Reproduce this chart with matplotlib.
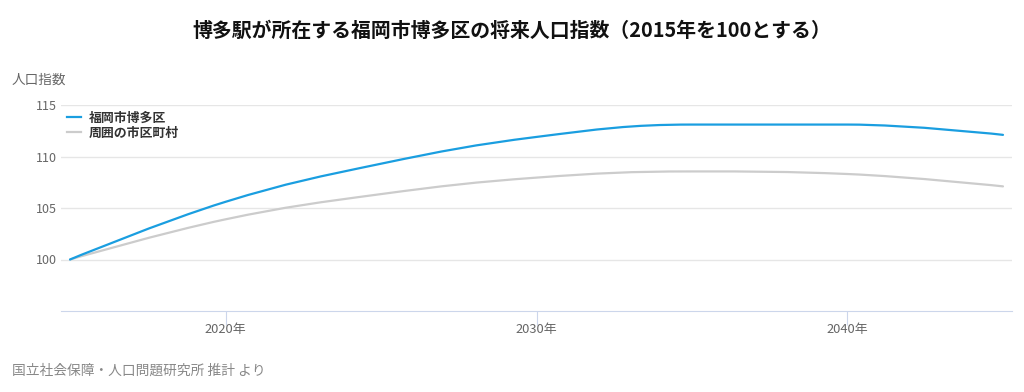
import matplotlib
matplotlib.use('Agg')
import matplotlib.pyplot as plt
from matplotlib.path import Path
from matplotlib.patches import PathPatch
from matplotlib.lines import Line2D

plt.rcParams['font.family'] = ['Noto Sans CJK JP', 'DejaVu Sans']

years = [2015, 2020, 2025, 2030, 2035, 2040, 2045]
hakata = [100, 105.6, 109.3, 111.9, 113.1, 113.1, 112.1]
surround = [100, 103.9, 106.35, 107.95, 108.55, 108.3, 107.1]
series_names = ['福岡市博多区', '周囲の市区町村']
colors = ['#1a9ee0', '#cccccc']
yticks = [100, 105, 110, 115]
xticks = [2020, 2030, 2040]
xticklabels = ['2020年', '2030年', '2040年']


def spline_path(x, y, smoothing=1.5):
    # highcharts-like spline: control points from neighbours
    n = len(x)
    lc = [(x[i], y[i]) for i in range(n)]
    rc = [(x[i], y[i]) for i in range(n)]
    d = smoothing + 1
    for i in range(1, n - 1):
        lcx = (smoothing * x[i] + x[i - 1]) / d
        lcy = (smoothing * y[i] + y[i - 1]) / d
        rcx = (smoothing * x[i] + x[i + 1]) / d
        rcy = (smoothing * y[i] + y[i + 1]) / d
        if rcx != lcx:
            corr = (rcy - lcy) * (rcx - x[i]) / (rcx - lcx) + y[i] - rcy
            lcy += corr
            rcy += corr
        if lcy > y[i - 1] and lcy > y[i]:
            lcy = max(y[i - 1], y[i]); rcy = 2 * y[i] - lcy
        elif lcy < y[i - 1] and lcy < y[i]:
            lcy = min(y[i - 1], y[i]); rcy = 2 * y[i] - lcy
        if rcy > y[i + 1] and rcy > y[i]:
            rcy = max(y[i + 1], y[i]); lcy = 2 * y[i] - rcy
        elif rcy < y[i + 1] and rcy < y[i]:
            rcy = min(y[i + 1], y[i]); lcy = 2 * y[i] - rcy
        lc[i] = (lcx, lcy)
        rc[i] = (rcx, rcy)
    verts = [(x[0], y[0])]
    codes = [Path.MOVETO]
    for i in range(1, n):
        verts += [rc[i - 1], lc[i], (x[i], y[i])]
        codes += [Path.CURVE4] * 3
    return Path(verts, codes)


fig = plt.figure(figsize=(10.24, 3.92), dpi=100)
ax = fig.add_axes([61 / 1024, 81 / 392, 951 / 1024, 206 / 392])

for vals, col in [(surround, colors[1]), (hakata, colors[0])]:
    ax.add_patch(PathPatch(spline_path(years, vals), facecolor='none',
                           edgecolor=col, lw=1.6, capstyle='round'))

ax.set_xlim(2014.71, 2045.29)
ax.set_ylim(95, 115)
ax.set_yticks(yticks)
ax.set_xticks(xticks)
ax.set_xticklabels(xticklabels)
ax.grid(axis='y', color='#e6e6e6', lw=1)
ax.set_axisbelow(True)
for s in ['left', 'right', 'top']:
    ax.spines[s].set_visible(False)
ax.spines['bottom'].set_color('#ccd6eb')
ax.tick_params(axis='y', length=0, labelsize=9, labelcolor='#666666', pad=3)
ax.tick_params(axis='x', length=10, color='#ccd6eb', labelsize=9.3,
               labelcolor='#666666', pad=-1)

handles = [Line2D([], [], color=c, lw=1.6) for c in colors]
leg = ax.legend(handles, series_names, loc='upper left', bbox_to_anchor=(0.0, 1.0),
                frameon=False, handlelength=1.1, handletextpad=0.6,
                labelspacing=0.05, borderaxespad=0.15, borderpad=0.3,
                prop={'size': 9.3, 'weight': 'bold'})
for t in leg.get_texts():
    t.set_color('#333333')

fig.text(0.5, 1 - 30 / 392, '博多駅が所在する福岡市博多区の将来人口指数（2015年を100とする）',
         ha='center', va='center', fontsize=14.3, fontweight='bold', color='#111111')
fig.text(12 / 1024, 1 - 80 / 392, '人口指数', ha='left', va='center',
         fontsize=9.8, color='#666666')
fig.text(12 / 1024, 1 - 371 / 392, '国立社会保障・人口問題研究所 推計 より',
         ha='left', va='center', fontsize=9.9, color='#888888')

fig.savefig('out.png', dpi=100)
